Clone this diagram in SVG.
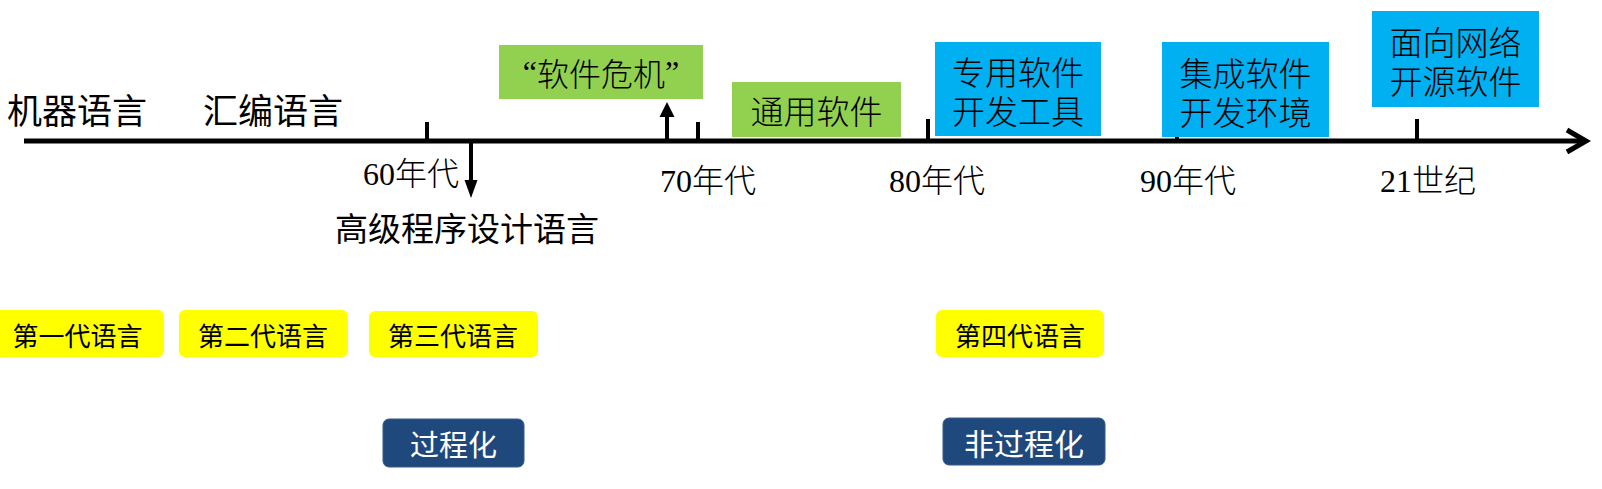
<svg xmlns="http://www.w3.org/2000/svg" width="1602" height="489" viewBox="0 0 1602 489">
  <style>
    .cjk { font-family: "Noto Sans CJK SC", "Noto Sans", sans-serif; fill: #000; }
    .thin { font-weight: 300; }
    .era { font-family: "Liberation Serif", "Noto Sans CJK SC", serif; font-size: 32px; fill: #000; font-weight: 300; }
    .mid { text-anchor: middle; dominant-baseline: central; }
    .green { fill: #92D050; }
    .blue { fill: #00B0F0; }
    .yellow { fill: #FFFF00; }
    .navy { fill: #1F497D; stroke: #385D8A; stroke-width: 1; }
    .axis { stroke: #000; stroke-width: 5; fill: none; }
    .tick { stroke: #000; stroke-width: 4; }
    .shaft { stroke: #000; stroke-width: 4; }
  </style>

  <g id="connectors">
    <line class="tick" x1="1177" y1="119" x2="1177" y2="141"/>
    <line class="axis" x1="24" y1="141" x2="1585" y2="141"/>
    <polyline class="axis" points="1567,130 1586,141 1567,152" stroke-linejoin="miter"/>
    <line class="tick" x1="427" y1="122" x2="427" y2="141"/>
    <line class="tick" x1="698" y1="122" x2="698" y2="141"/>
    <line class="tick" x1="928" y1="119" x2="928" y2="141"/>
    <line class="tick" x1="1417" y1="119" x2="1417" y2="141"/>
    <line class="shaft" x1="471" y1="141" x2="471" y2="182"/>
    <polygon points="464.5,180 477.5,180 471,198"/>
    <line class="shaft" x1="667" y1="141" x2="667" y2="115"/>
    <polygon points="659.5,117 674.5,117 667,102"/>
  </g>

  <g id="machine-language">
    <text class="cjk" x="7" y="108" font-size="35" dominant-baseline="central">机器语言</text>
  </g>
  <g id="assembly-language">
    <text class="cjk" x="203" y="108" font-size="35" dominant-baseline="central">汇编语言</text>
  </g>
  <g id="era-60">
    <text class="era" x="363" y="185">60年代</text>
  </g>
  <g id="high-level-language">
    <text class="cjk" x="335" y="227" font-size="33" dominant-baseline="central">高级程序设计语言</text>
  </g>
  <g id="software-crisis">
    <rect class="green" x="499" y="45" width="204" height="54"/>
    <text class="cjk thin mid" x="601" y="72" font-size="32"><tspan font-family="Liberation Serif">“</tspan>软件危机<tspan font-family="Liberation Serif">”</tspan></text>
  </g>
  <g id="era-70">
    <text class="era" x="660" y="192">70年代</text>
  </g>
  <g id="general-software">
    <rect class="green" x="732" y="82" width="169" height="55"/>
    <text class="cjk thin mid" x="816.5" y="110" font-size="33">通用软件</text>
  </g>
  <g id="era-80">
    <text class="era" x="889" y="192">80年代</text>
  </g>
  <g id="dedicated-tools">
    <rect class="blue" x="935" y="42" width="166" height="94"/>
    <text class="cjk thin mid" font-size="33"><tspan x="1018" y="71">专用软件</tspan><tspan x="1018" y="110">开发工具</tspan></text>
  </g>
  <g id="era-90">
    <text class="era" x="1140" y="192">90年代</text>
  </g>
  <g id="integrated-env">
    <rect class="blue" x="1162" y="42" width="167" height="95"/>
    <text class="cjk thin mid" font-size="33"><tspan x="1245.5" y="72">集成软件</tspan><tspan x="1245.5" y="111">开发环境</tspan></text>
  </g>
  <g id="era-21">
    <text class="era" x="1380" y="192">21世纪</text>
  </g>
  <g id="open-source">
    <rect class="blue" x="1372" y="11" width="167" height="96"/>
    <text class="cjk thin mid" font-size="33"><tspan x="1455.5" y="41">面向网络</tspan><tspan x="1455.5" y="80">开源软件</tspan></text>
  </g>

  <g id="gen1">
    <rect class="yellow" x="-9" y="310" width="173" height="47" rx="6"/>
    <text class="cjk mid" x="77.5" y="334" font-size="26">第一代语言</text>
  </g>
  <g id="gen2">
    <rect class="yellow" x="179" y="310" width="169" height="47" rx="6"/>
    <text class="cjk mid" x="263" y="334" font-size="26">第二代语言</text>
  </g>
  <g id="gen3">
    <rect class="yellow" x="369" y="311" width="169" height="46" rx="6"/>
    <text class="cjk mid" x="453" y="334" font-size="26">第三代语言</text>
  </g>
  <g id="gen4">
    <rect class="yellow" x="936" y="310" width="168" height="47" rx="6"/>
    <text class="cjk mid" x="1020" y="334" font-size="26">第四代语言</text>
  </g>
  <g id="procedural">
    <rect class="navy" x="383" y="419" width="141" height="48" rx="6"/>
    <text class="cjk mid" x="453.5" y="443" font-size="29" style="fill:#fff">过程化</text>
  </g>
  <g id="non-procedural">
    <rect class="navy" x="943" y="418" width="162" height="47" rx="6"/>
    <text class="cjk mid" x="1024" y="442" font-size="30" style="fill:#fff">非过程化</text>
  </g>
</svg>
